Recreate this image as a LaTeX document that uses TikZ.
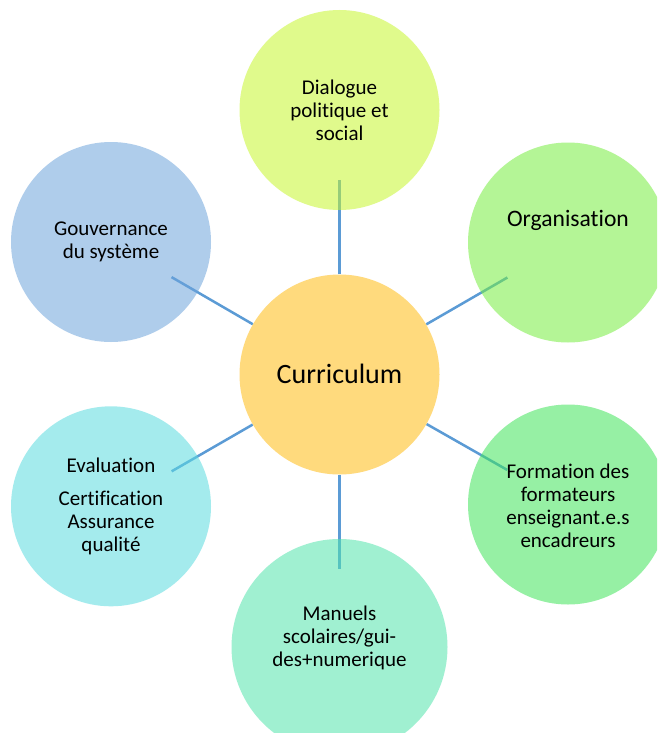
\documentclass[tikz,border=0pt]{standalone}
\usepackage{fontspec}
\setmainfont{Carlito}[Ligatures=NoCommon]
\usetikzlibrary{calc}
\pgfdeclarelayer{paper}
\pgfdeclarelayer{back}
\pgfsetlayers{paper,back,main}
\definecolor{linec}{RGB}{91,155,213}
\definecolor{cTop}{RGB}{199,246,46}
\definecolor{cOrg}{RGB}{119,237,64}
\definecolor{cForm}{RGB}{64,228,91}
\definecolor{cMan}{RGB}{82,228,173}
\definecolor{cEval}{RGB}{91,219,224}
\definecolor{cGouv}{RGB}{110,164,219}
\definecolor{cCur}{RGB}{255,218,125}
\tikzset{
  bub/.style={circle, minimum size=200pt, inner sep=0pt, draw=none, fill opacity=0.55},
  bigbub/.style={bub, minimum size=216pt},
  txt/.style={align=center, inner sep=0pt, text=black, font=\fontsize{21}{23}\selectfont},
  conn/.style={draw=linec, line width=2.5pt}
}
\begin{document}
\begin{tikzpicture}[x=1pt,y=-1pt]
\useasboundingbox (0,0) rectangle (657,733);
\clip (0,0) rectangle (657,733);
\begin{pgfonlayer}{paper}
\fill[white] (0,0) rectangle (657,733);
\end{pgfonlayer}
% circles
\node[circle, minimum size=200pt, inner sep=0pt, fill=cCur] (cur) at (339.5,374.5) {};
\node[bub, fill=cTop]  (dia)  at (339.5,110) {};
\node[bub, fill=cOrg]  (org)  at (568,242.5) {};
\node[bub, fill=cForm] (form) at (568,504.5) {};
\node[bigbub, fill=cMan] (man) at (339.5,647) {};
\node[bub, fill=cEval] (eval) at (111,506.3) {};
\node[bub, fill=cGouv] (gouv) at (111,242) {};
% connectors
\begin{pgfonlayer}{back}
\foreach \o/\d in {dia/70,org/70,form/70,man/78,eval/70,gouv/70}
  \draw[conn] (cur) -- ($(\o.center)!\d pt!(cur.center)$);
\end{pgfonlayer}
% texts
\node[txt, font=\fontsize{28}{30}\selectfont] (curt) at (339.5,374) {Curriculum};
\node[txt] (diat) at (339.5,110.5) {Dialogue\\politique et\\social};
\node[txt, font=\fontsize{23.6}{26}\selectfont] (orgt) at (568,220) {Organisation};
\node[txt] (formt) at (568,506) {Formation des\\formateurs\\enseignant.e.s\\encadreurs};
\node[txt] (mant) at (339.5,638) {Manuels\\scolaires/gui-\\des+numerique};
\node[txt] (evalt) at (111,506.3) {Evaluation\\[10pt]Certification\\Assurance\\qualité};
\node[txt] (gouvt) at (111,242.3) {Gouvernance\\du système};
\end{tikzpicture}
\end{document}
